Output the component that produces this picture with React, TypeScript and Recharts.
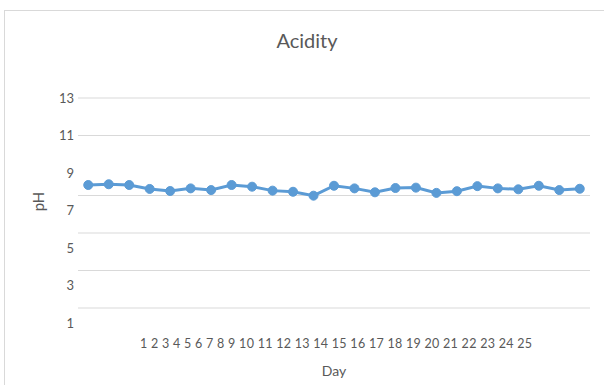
import React from 'react';
import { LineChart, Line, XAxis, YAxis, CartesianGrid, Label } from 'recharts';

const days = ['1', '2', '3', '4', '5', '6', '7', '8', '9', '10', '11', '12', '13', '14', '15', '16', '17', '18', '19', '20', '21', '22', '23', '24', '25'];
const phValues = [8.36, 8.4, 8.36, 8.15, 8.04, 8.18, 8.09, 8.36, 8.27, 8.06, 8.0, 7.79, 8.32, 8.18, 7.97, 8.2, 8.22, 7.94, 8.03, 8.3, 8.18, 8.13, 8.32, 8.09, 8.16];
const yTicks = [1, 3, 5, 7, 9, 11, 13];
// gridlines in the picture do not sit on every label
const gridValues = [13, 11, 9, 7.8, 5.8, 3.8, 1.8];

const data = days.map((day, i) => ({ day, ph: phValues[i] }));

const TEXT = '#595959';
const FONT = 'Lato, "Open Sans", sans-serif';

// Excel drew all day labels as one run of text under the middle of the plot
const DayTicks = (props: any) => {
  const { x, y, index } = props;
  if (index !== 12) return null;
  return (
    <text x={x + 2} y={y + 25} textAnchor="middle" fill={TEXT} fontSize={12.5} fontFamily={FONT}
      textLength={392} lengthAdjust="spacing">
      {days.join(' ')}
    </text>
  );
};

const PhLabel = (props: any) => {
  const { x, y, height } = props.viewBox;
  const cx = x + 33;
  const cy = y + height / 2 - 9;
  return (
    <text x={cx} y={cy} transform={`rotate(-90 ${cx} ${cy})`} textAnchor="middle" dominantBaseline="central"
      fill={TEXT} fontSize={15} fontFamily={FONT}>
      pH
    </text>
  );
};

const App: React.FC = () => {
  return (
    <div style={{ position: 'absolute', left: 4, top: 10, width: 606, height: 380, border: '1px solid #d9d9d9', boxSizing: 'border-box', background: '#fff', fontFamily: FONT }}>
      <div style={{ position: 'absolute', top: 18, left: 0, width: '100%', textAlign: 'center', fontSize: 20, lineHeight: '22px', color: TEXT }}>
        Acidity
      </div>
      <LineChart width={604} height={378} data={data} margin={{ top: 87, right: 19, bottom: 0, left: 0 }}>
        <CartesianGrid horizontal vertical={false} stroke="#d9d9d9" horizontalValues={gridValues} />
        <XAxis dataKey="day" scale="band" height={66} axisLine={false} tickLine={false} tickSize={0} tickMargin={0}
          tick={<DayTicks />} interval={0}>
          <Label value="Day" position="insideBottom" offset={13} fill={TEXT} fontSize={14} fontFamily={FONT} />
        </XAxis>
        <YAxis type="number" domain={[1, 13]} ticks={yTicks} width={73} axisLine={false} tickLine={false}
          tickSize={0} tickMargin={4} tick={{ fill: TEXT, fontSize: 13, fontFamily: FONT }}
          label={<PhLabel />} />
        <Line type="linear" dataKey="ph" stroke="#5b9bd5" strokeWidth={3}
          dot={{ r: 4.5, fill: '#5b9bd5', stroke: '#5b9bd5', strokeWidth: 1 }} isAnimationActive={false} />
      </LineChart>
    </div>
  );
};

export default App;
